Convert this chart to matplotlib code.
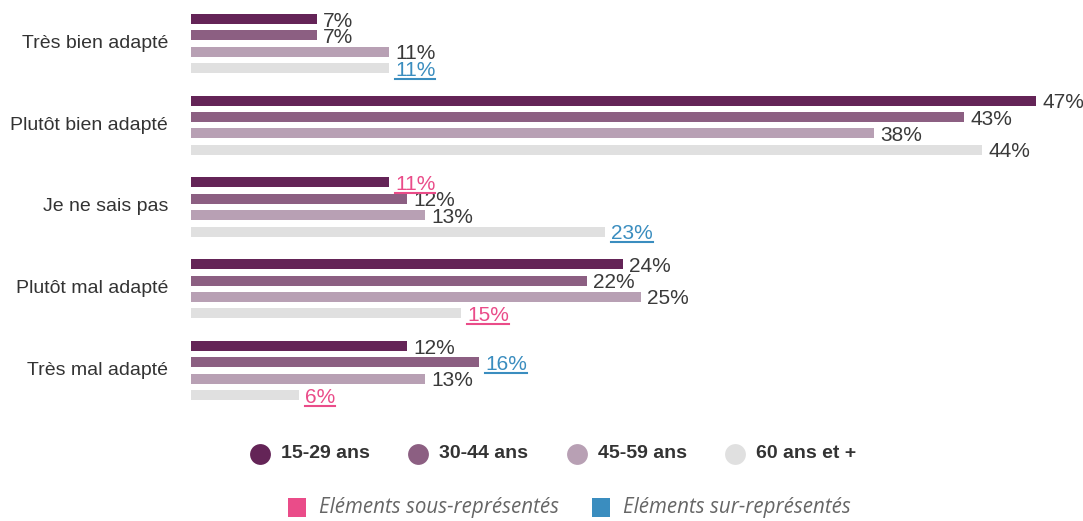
import matplotlib
matplotlib.use("Agg")
import matplotlib.pyplot as plt
from matplotlib.lines import Line2D
from matplotlib.patches import Rectangle

categories = ["Très bien adapté", "Plutôt bien adapté", "Je ne sais pas",
              "Plutôt mal adapté", "Très mal adapté"]
groups = ["15-29 ans", "30-44 ans", "45-59 ans", "60 ans et +"]
values = {
    "15-29 ans": [7, 47, 11, 24, 12],
    "30-44 ans": [7, 43, 12, 22, 16],
    "45-59 ans": [11, 38, 13, 25, 13],
    "60 ans et +": [11, 44, 23, 15, 6],
}
# "under" = sous-représenté, "over" = sur-représenté, None = neutral
flags = {
    "15-29 ans": [None, None, "under", None, None],
    "30-44 ans": [None, None, None, None, "over"],
    "45-59 ans": [None, None, None, None, None],
    "60 ans et +": ["over", None, "over", "under", "under"],
}

bar_colors = ["#642457", "#8c5f82", "#b8a0b4", "#e0e0e0"]
flag_colors = {"under": "#ea4c89", "over": "#3a8dbf", None: "#3a3a3a"}

W, H = 1083, 521
fig = plt.figure(figsize=(W / 100, H / 100), dpi=100)

# axes placed in pixel terms: x=0 at 191px, ~18 px per percent
x0_px, px_per_pct = 191, 17.98
step_px = 81.75
top_px, bottom_px = 0, 420
ax = fig.add_axes([x0_px / W, 1 - bottom_px / H, 1 - x0_px / W, (bottom_px - top_px) / H])
ax.set_xlim(0, (W - x0_px) / px_per_pct)
first_center = 43.5
ax.set_ylim((bottom_px - first_center) / step_px, (top_px - first_center) / step_px)
ax.axis("off")

offsets = [-0.3, -0.1, 0.1, 0.3]
bar_h = 10 / step_px

value_texts = []
for gi, g in enumerate(groups):
    for ci, v in enumerate(values[g]):
        y = ci + offsets[gi]
        ax.barh(y, v, height=bar_h, color=bar_colors[gi], edgecolor="none")
        f = flags[g][ci]
        t = ax.text(v + 0.35, y + 0.025, f"{v}%", ha="left", va="center",
                    fontsize=15, family="Liberation Sans", color=flag_colors[f])
        if f is not None:
            value_texts.append((t, flag_colors[f]))

for ci, c in enumerate(categories):
    fig.text(168 / W, 1 - (first_center + ci * step_px) / H, c, ha="right", va="center",
             fontsize=14, family="Liberation Sans", color="#333333")

# age group legend
leg_x = [260, 418, 577, 735]
for gi, g in enumerate(groups):
    fig.add_artist(Line2D([leg_x[gi] / W], [1 - 454 / H], marker="o", markersize=15,
                          markerfacecolor=bar_colors[gi], markeredgecolor="none",
                          linestyle="none"))
    fig.text((leg_x[gi] + 21) / W, 1 - 454 / H, g, ha="left", va="center",
             fontsize=14, fontweight="bold", family="Liberation Sans", color="#333333")

# representation legend
for xs, label, key in [(297, "Eléments sous-représentés", "under"),
                       (601, "Eléments sur-représentés", "over")]:
    fig.add_artist(Rectangle(((xs - 9) / W, 1 - 517 / H), 18 / W, 19 / H,
                             transform=fig.transFigure, color=flag_colors[key], lw=0))
    fig.text((xs + 22) / W, 1 - 508 / H, label, ha="left", va="center",
             fontsize=14.8, style="italic", family="Open Sans", color="#666666")

# underline the highlighted values
fig.canvas.draw()
renderer = fig.canvas.get_renderer()
for t, col in value_texts:
    bb = t.get_window_extent(renderer)
    yline = bb.y0 + 1
    fig.add_artist(Line2D([bb.x0 / W, bb.x1 / W], [yline / H, yline / H],
                          color=col, lw=1.5))

fig.savefig("out.png", dpi=100)
